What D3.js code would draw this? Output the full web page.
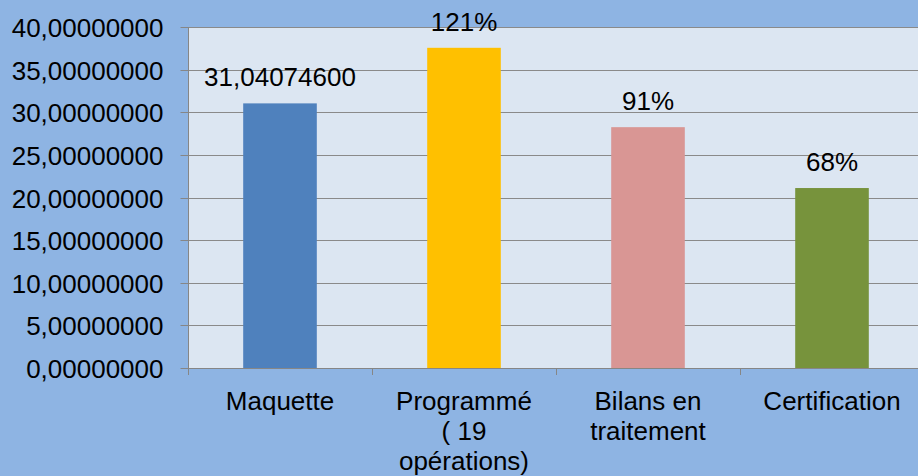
<!DOCTYPE html>
<html>
<head>
<meta charset="utf-8">
<style>
  body { margin: 0; background: #8eb4e3; }
  svg { display: block; font-family: "Liberation Sans", Arial, sans-serif; }
</style>
</head>
<body>
<svg width="918" height="476"></svg>
<script src="https://d3js.org/d3.v7.min.js"></script>
<script>
// data
var categories = ["Maquette", "Programmé ( 19 opérations)", "Bilans en traitement", "Certification"];
var tickLines = [["Maquette"], ["Programmé", "( 19", "opérations)"], ["Bilans en", "traitement"], ["Certification"]];
var values = [31.040746, 37.56, 28.25, 21.11];
var valueLabels = ["31,04074600", "121%", "91%", "68%"];
var barColors = ["#4f81bd", "#ffc000", "#d99694", "#77933c"];
var yTicks = [0, 5, 10, 15, 20, 25, 30, 35, 40];

var svg = d3.select("svg"),
    width = +svg.attr("width"),
    height = +svg.attr("height");

var fontSize = 26;

// plot area (it runs past the right edge, like the original)
var plotLeft = 188, plotTop = 27, plotBottom = 368, plotRight = 924;

var x = d3.scaleBand().domain(categories).range([plotLeft, plotRight]).padding(0);
var y = d3.scaleLinear().domain([0, 40]).range([plotBottom, plotTop]);

svg.append("rect")
    .attr("width", width).attr("height", height)
    .attr("fill", "#8eb4e3");

svg.append("rect")
    .attr("x", plotLeft).attr("y", plotTop)
    .attr("width", plotRight - plotLeft).attr("height", plotBottom - plotTop)
    .attr("fill", "#dce6f2");

// gridlines
svg.append("g")
  .selectAll("line")
  .data(yTicks.slice(1))
  .enter().append("line")
    .attr("x1", plotLeft).attr("x2", plotRight)
    .attr("y1", function(d) { return Math.round(y(d)) + 0.5; })
    .attr("y2", function(d) { return Math.round(y(d)) + 0.5; })
    .attr("stroke", "#8a8a8a")
    .attr("stroke-width", 1);

// bars
var bw = x.bandwidth() * 0.4;
svg.append("g")
  .selectAll("rect")
  .data(categories)
  .enter().append("rect")
    .attr("x", function(d) { return x(d) + (x.bandwidth() - bw) / 2; })
    .attr("y", function(d, i) { return y(values[i]); })
    .attr("width", bw)
    .attr("height", function(d, i) { return y(0) - y(values[i]); })
    .attr("fill", function(d, i) { return barColors[i]; });

// value labels
svg.append("g")
  .selectAll("text")
  .data(categories)
  .enter().append("text")
    .attr("x", function(d) { return x(d) + x.bandwidth() / 2; })
    .attr("y", function(d, i) { return y(values[i]) - 17; })
    .attr("text-anchor", "middle")
    .attr("font-size", fontSize)
    .attr("fill", "#000")
    .text(function(d, i) { return valueLabels[i]; });

// y axis
var yAxis = d3.axisLeft(y)
    .tickValues(yTicks)
    .tickSize(8)
    .tickPadding(17)
    .tickFormat(function(d) { return d.toFixed(8).replace(".", ","); });

var gy = svg.append("g")
    .attr("transform", "translate(" + (plotLeft + 0.5) + ",0)")
    .call(yAxis);
gy.selectAll("line, path").attr("stroke", "#868686");
gy.selectAll(".tick").attr("transform", function(d) { return "translate(0," + (Math.round(y(d)) + 0.5) + ")"; });
gy.select(".domain").attr("d", "M0," + plotTop + "V" + plotBottom);
gy.selectAll("text")
    .attr("font-size", fontSize)
    .attr("font-family", "Liberation Sans, Arial, sans-serif")
    .attr("fill", "#000")
    .attr("dy", "0.35em");

// x axis: category boundary ticks
svg.append("g")
  .selectAll("line")
  .data(categories)
  .enter().append("line")
    .attr("x1", function(d) { return Math.round(x(d)) + 0.5; })
    .attr("x2", function(d) { return Math.round(x(d)) + 0.5; })
    .attr("y1", plotBottom)
    .attr("y2", plotBottom + 7)
    .attr("stroke", "#868686");

svg.append("line")
    .attr("x1", plotLeft).attr("x2", plotRight)
    .attr("y1", plotBottom + 0.5).attr("y2", plotBottom + 0.5)
    .attr("stroke", "#868686");

// category labels
var cat = svg.append("g")
  .selectAll("text")
  .data(categories)
  .enter().append("text")
    .attr("x", function(d) { return x(d) + x.bandwidth() / 2; })
    .attr("y", 410)
    .attr("text-anchor", "middle")
    .attr("font-size", fontSize)
    .attr("fill", "#000");

cat.selectAll("tspan")
  .data(function(d, i) { return tickLines[i]; })
  .enter().append("tspan")
    .attr("x", function() { return +d3.select(this.parentNode).attr("x"); })
    .attr("dy", function(d, i) { return i === 0 ? 0 : 30; })
    .text(function(d) { return d; });
</script>
</body>
</html>
